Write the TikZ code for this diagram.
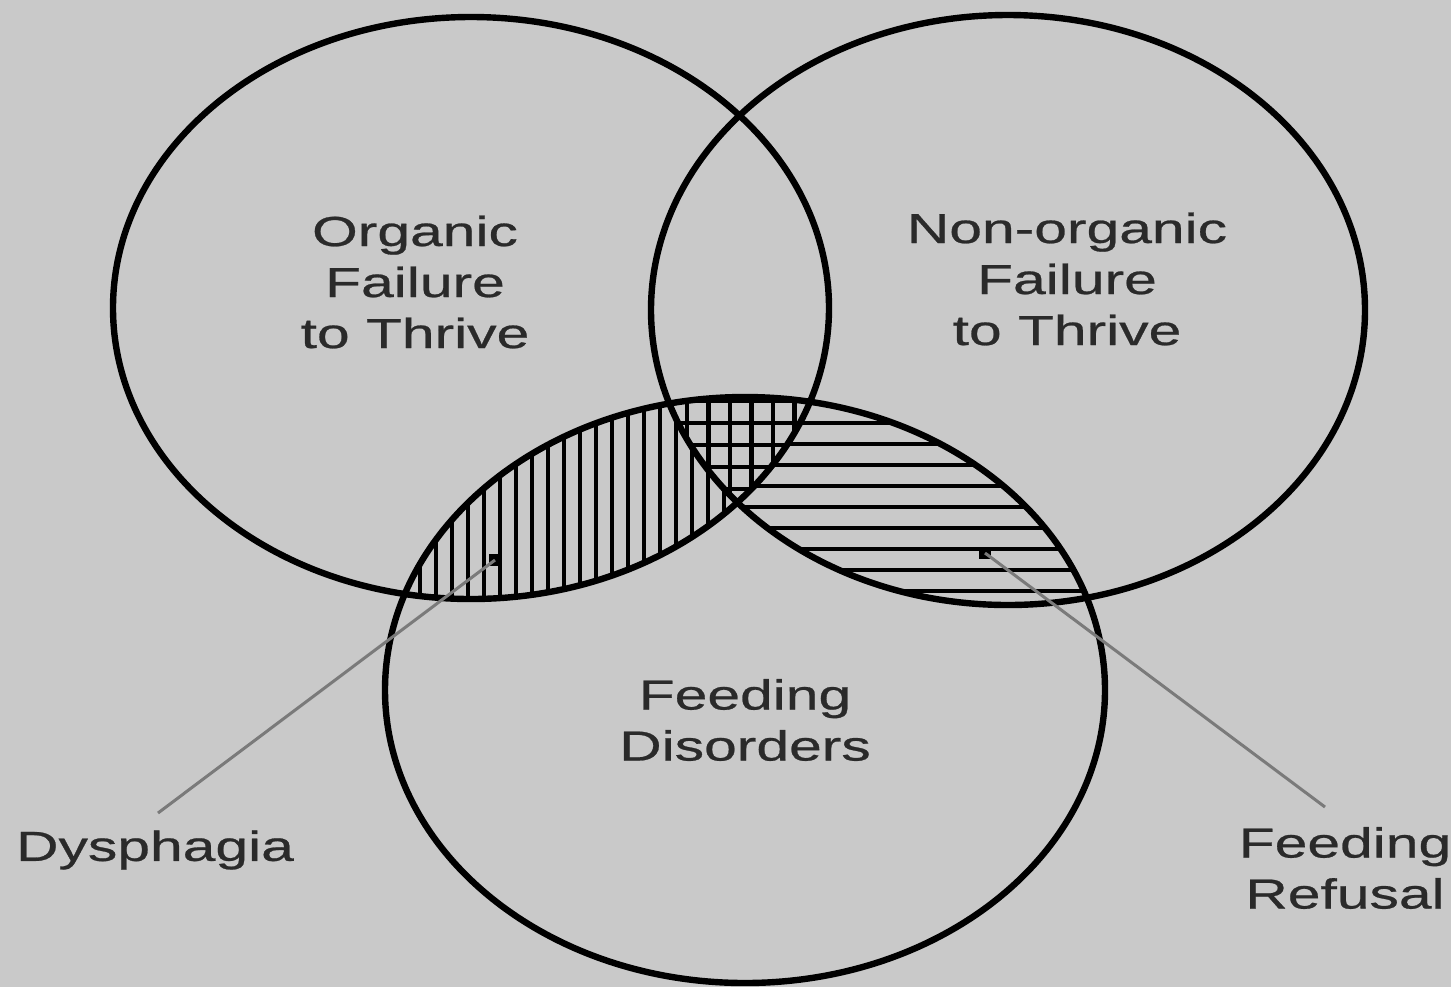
\documentclass[tikz,border=0pt]{standalone}
\usepackage{fontspec}
\newfontfamily\labfont[FakeStretch=1.4,FakeBold=0.6]{Liberation Sans}
\definecolor{bg}{HTML}{C9C9C9}
\definecolor{txt}{HTML}{2A2A2A}
\definecolor{lead}{HTML}{7A7A7A}
\begin{document}
\begin{tikzpicture}[x=0.5pt,y=-0.5pt,
  lab/.style={font=\labfont\fontsize{21pt}{25.5pt}\selectfont, text=txt, align=center, inner sep=0pt},
  ring/.style={draw=black, line width=3.2pt},
  hatch/.style={draw=black, line width=2pt},
  leader/.style={draw=lead, line width=1.5pt},
  dotmark/.style={rectangle, fill=black, inner sep=0pt, minimum size=6pt}]
\useasboundingbox (0,0) rectangle (1451,987);
\fill[bg] (0,0) rectangle (1451,987);
% ellipse geometry
\def\leftE{(471,308) ellipse [x radius=179pt, y radius=145.5pt]}
\def\rightE{(1008,310) ellipse [x radius=178.5pt, y radius=147.5pt]}
\def\botE{(745,690) ellipse [x radius=180pt, y radius=146.5pt]}
% vertical hatching: organic & feeding
\begin{scope}
  \clip \leftE; \clip \botE;
  \foreach \x in {404,420,...,840} \draw[hatch] (\x,380) -- (\x,640);
\end{scope}
% horizontal hatching: non-organic & feeding
\begin{scope}
  \clip \rightE; \clip \botE;
  \foreach \y in {402,423,...,640} \draw[hatch, line width=2.2pt] (640,\y) -- (1120,\y);
\end{scope}
% cross-hatching: all three
\begin{scope}
  \clip \leftE; \clip \rightE; \clip \botE;
  \fill[bg] (640,380) rectangle (840,520);
  \foreach \x in {687,708.5,...,820} \draw[hatch, line width=2.3pt] (\x,380) -- (\x,520);
  \foreach \y in {401,423,...,520} \draw[hatch, line width=2.3pt] (640,\y) -- (840,\y);
\end{scope}
% outlines
\draw[ring] \leftE;
\draw[ring] \rightE;
\draw[ring] \botE;
% labels
\node[lab] (org) at (415,282) {Organic\\Failure\\to Thrive};
\node[lab] (nonorg) at (1067,279) {Non-organic\\Failure\\to Thrive};
\node[lab] (feed) at (745,720) {Feeding\\Disorders};
\node[lab] (dys) at (155,850) {Dysphagia};
\node[lab] (ref) at (1345,868) {Feeding\\Refusal};
% leader lines
\coordinate (dysend) at (158,813);
\coordinate (refend) at (1325,807);
\node[dotmark] (dysdot) at (495,560) {};
\node[dotmark] (refdot) at (985,553) {};
\draw[leader] (dysend) -- (dysdot.center);
\draw[leader] (refend) -- (refdot.center);
\end{tikzpicture}
\end{document}
